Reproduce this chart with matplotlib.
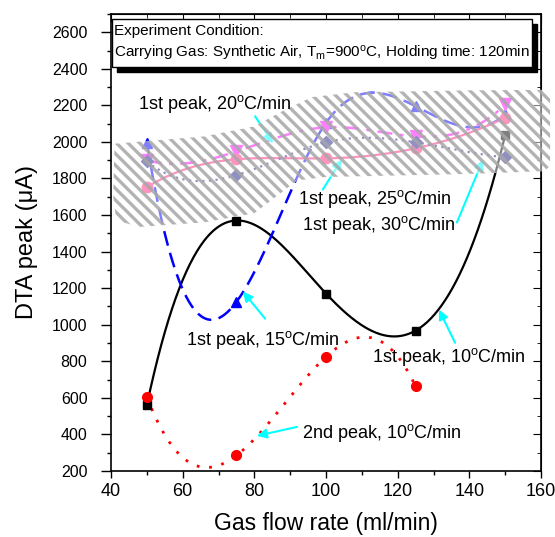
import numpy as np
import matplotlib
matplotlib.use("Agg")
import matplotlib.pyplot as plt
from matplotlib.patches import Polygon, Rectangle
from matplotlib.collections import LineCollection

plt.rcParams["font.family"] = ["Liberation Sans", "DejaVu Sans"]
plt.rcParams["mathtext.fontset"] = "custom"
plt.rcParams["mathtext.rm"] = "Liberation Sans"
plt.rcParams["mathtext.it"] = "Liberation Sans:italic"

# gas flow rate (ml/min)
flow = [50, 75, 100, 125, 150]
flow_2nd = [50, 75, 100, 125]

# DTA peak (uA)
peak1_10 = [560, 1570, 1170, 968, 2040]
peak2_10 = [605, 285, 825, 662]
peak1_15 = [1995, 1125, 2105, 2195, 2150]
peak1_20 = [1900, 1948, 2080, 2030, 2205]
peak1_25 = [1752, 1905, 1910, 1965, 2132]
peak1_30 = [1893, 1818, 1998, 1998, 1916]

# hatched band outline (data units, right end sticks out past the axes)
band_x = [41, 50, 66, 80, 88, 96, 108, 140, 161, 162.5, 162.5, 161,
          140, 100, 92, 86, 80, 66, 48, 41.5, 40.6]
band_y = [1990, 2005, 2030, 2085, 2170, 2245, 2272, 2282, 2285, 2260,
          1870, 1840, 1825, 1808, 1790, 1700, 1610, 1560, 1535, 1570, 1700]


def smooth(x, y, n=300):
    # cubic spline through the points, not-a-knot ends
    x = np.asarray(x, float)
    y = np.asarray(y, float)
    k = len(x)
    h = np.diff(x)
    A = np.zeros((k, k))
    b = np.zeros(k)
    for i in range(1, k - 1):
        A[i, i - 1] = h[i - 1]
        A[i, i] = 2 * (h[i - 1] + h[i])
        A[i, i + 1] = h[i]
        b[i] = 6 * ((y[i + 1] - y[i]) / h[i] - (y[i] - y[i - 1]) / h[i - 1])
    A[0, 0], A[0, 1], A[0, 2] = h[1], -(h[0] + h[1]), h[0]
    A[-1, -3], A[-1, -2], A[-1, -1] = h[-1], -(h[-2] + h[-1]), h[-2]
    M = np.linalg.solve(A, b)
    xs = np.linspace(x[0], x[-1], n)
    j = np.clip(np.searchsorted(x, xs) - 1, 0, k - 2)
    t0 = xs - x[j]
    t1 = x[j + 1] - xs
    hj = h[j]
    ys = (M[j] * t1 ** 3 + M[j + 1] * t0 ** 3) / (6 * hj) \
        + (y[j] / hj - M[j] * hj / 6) * t1 + (y[j + 1] / hj - M[j + 1] * hj / 6) * t0
    return xs, ys


fig = plt.figure(figsize=(5.55, 5.37), dpi=100)
ax = fig.add_axes([0.2, 0.123, 0.775, 0.851])

series = [
    (flow, peak1_10, "k", "-", "s", 5.5, 1.6),
    (flow_2nd, peak2_10, "red", (0, (1, 3.5)), "o", 7, 2.0),
    (flow, peak1_15, "#0000ff", (0, (6, 3)), "^", 7, 1.8),
    (flow, peak1_20, "#ff00ff", (0, (6, 3, 1.5, 3)), "v", 8, 1.8),
    (flow, peak1_25, "#ff2a80", "-", "o", 7.5, 1.6),
    (flow, peak1_30, "#22228a", (0, (1, 2)), "D", 6.5, 1.6),
]
for x, y, c, ls, m, ms, lw in series:
    xs, ys = smooth(x, y)
    ax.plot(xs, ys, color=c, ls=ls, lw=lw, zorder=2)
    ax.plot(x, y, ls="none", marker=m, color=c, ms=ms, zorder=3)

# arrows and labels
arrows = [
    ("1st peak, 20$^\\mathrm{o}$C/min", (47.5, 2205), (80.2, 2140), (85.2, 1992)),
    ("1st peak, 25$^\\mathrm{o}$C/min", (92.2, 1685), (99.1, 1740), (104.4, 1904)),
    ("1st peak, 30$^\\mathrm{o}$C/min", (93.3, 1548), (136.5, 1559), (143.8, 1904)),
    ("1st peak, 15$^\\mathrm{o}$C/min", (60.9, 918), (83.0, 1033), (76.8, 1181)),
    ("1st peak, 10$^\\mathrm{o}$C/min", (112.8, 825), (136.0, 901), (131.5, 1082)),
    ("2nd peak, 10$^\\mathrm{o}$C/min", (93.3, 408), (91.9, 441), (80.7, 392)),
]
for label, pos, tail, tip in arrows:
    ax.annotate("", xy=tip, xytext=tail,
                arrowprops=dict(arrowstyle="-|>", color="cyan", lw=1.5,
                                mutation_scale=14, shrinkA=0, shrinkB=0),
                zorder=4)
    ax.text(pos[0], pos[1], label, fontsize=13, ha="left", va="center", zorder=6)

# hatched band over the upper curves
band = Polygon(np.column_stack([band_x, band_y]), closed=True,
               facecolor=(1, 1, 1, 0.5), edgecolor="none", zorder=5,
               clip_on=False)
ax.add_patch(band)
W, H = 555, 537
step = 11.6
segs = [[(x0, H), (x0 + H, 0)] for x0 in np.arange(-H, W + H, step)]
stripes = LineCollection(segs, colors="#a6a6a6", linewidths=2.4, alpha=0.85,
                         transform=None, zorder=5)
stripes.set_clip_path(band)
ax.add_collection(stripes)

ax.set_xlim(40, 160)
ax.set_ylim(200, 2700)
ax.set_xticks(np.arange(40, 161, 20))
ax.set_xticks(np.arange(50, 160, 20), minor=True)
ax.set_yticks(np.arange(200, 2601, 200))
ax.set_yticks(np.arange(300, 2701, 200), minor=True)
ax.tick_params(axis="x", which="both", direction="out", top=False, labelsize=13)
ax.tick_params(axis="y", which="both", direction="out", right=False, labelsize=11.5)
ax.tick_params(axis="x", which="major", length=5, width=1, pad=4)
ax.tick_params(axis="y", which="major", length=7, width=1, pad=10)
ax.tick_params(which="minor", length=3, width=1)
sec_x = ax.secondary_xaxis("top")
sec_x.set_xticks(np.arange(40, 161, 20))
sec_x.set_xticks(np.arange(50, 160, 20), minor=True)
sec_x.tick_params(which="both", direction="in", labeltop=False)
sec_x.tick_params(which="major", length=6)
sec_x.tick_params(which="minor", length=3)
sec_y = ax.secondary_yaxis("right")
sec_y.set_yticks(np.arange(200, 2601, 200))
sec_y.set_yticks(np.arange(300, 2701, 200), minor=True)
sec_y.tick_params(which="both", direction="in", labelright=False)
sec_y.tick_params(which="major", length=6)
sec_y.tick_params(which="minor", length=3)
for s in ax.spines.values():
    s.set_linewidth(1.2)

ax.set_xlabel("Gas flow rate (ml/min)", fontsize=16.5, labelpad=8)
ax.set_ylabel("DTA peak (\u03bcA)", fontsize=17, labelpad=10)

# condition box with drop shadow
ax.add_patch(Rectangle((0.0136, 0.873), 0.977, 0.105, transform=ax.transAxes,
                       facecolor="k", edgecolor="k", zorder=7, clip_on=False))
ax.add_patch(Rectangle((0.002, 0.884), 0.977, 0.105, transform=ax.transAxes,
                       facecolor="white", edgecolor="k", lw=1, zorder=8, clip_on=False))
ax.text(0.008, 0.962, "Experiment Condition:", transform=ax.transAxes,
        fontsize=11, va="center", ha="left", zorder=9)
ax.text(0.008, 0.914, "Carrying Gas: Synthetic Air, T$_\\mathrm{m}$=900$^\\mathrm{o}$C, Holding time: 120min",
        transform=ax.transAxes, fontsize=11, va="center", ha="left", zorder=9)

fig.savefig("out.png", dpi=100)
